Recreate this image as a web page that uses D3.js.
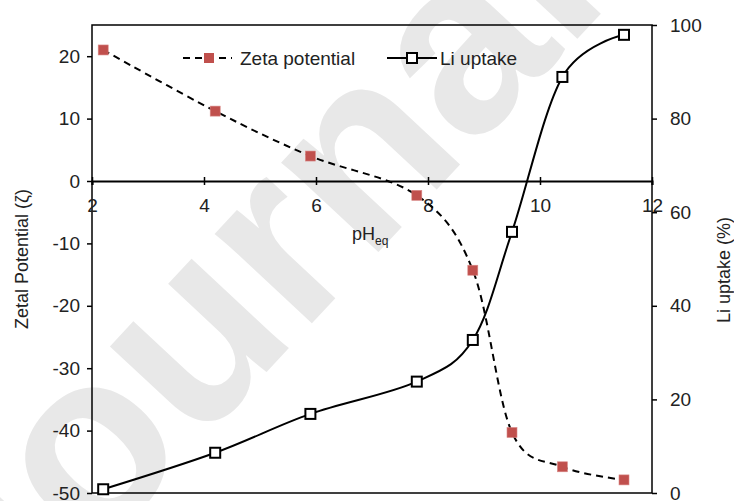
<!DOCTYPE html>
<html>
<head>
<meta charset="utf-8">
<script src="https://cdn.jsdelivr.net/npm/d3@7/dist/d3.min.js"></script>
<style>
  html, body { margin: 0; padding: 0; background: #fff; }
  svg { display: block; font-family: "Liberation Sans", Arial, sans-serif; }
</style>
</head>
<body>
<svg id="chart" width="734" height="501"></svg>
<script>
// Equilibrium pH of each sample
const pH = [2.2, 4.2, 5.9, 7.8, 8.8, 9.5, 10.4, 11.5];
// Zeta potential (mV) – left axis
const zeta = [21.0, 11.2, 4.0, -2.3, -14.3, -40.3, -45.8, -47.9];
// Li uptake (%) – right axis
const liUptake = [0.8, 8.6, 16.9, 23.8, 32.7, 55.8, 88.9, 97.9];

const xTicks = [2, 4, 6, 8, 10, 12];
const leftTicks = [-50, -40, -30, -20, -10, 0, 10, 20];
const rightTicks = [0, 20, 40, 60, 80, 100];

const svg = d3.select("#chart");
const m = { left: 92, right: 652, top: 25, bottom: 493 };

const x = d3.scaleLinear().domain([2, 12]).range([m.left, m.right]);
const yL = d3.scaleLinear().domain([-50, 25]).range([m.bottom, m.top]);
const yR = d3.scaleLinear().domain([0, 100]).range([m.bottom, m.top]);

const red = "#C0504D";
const fs = 19;
const plain = d => String(d);   // hyphen-minus for negatives

// faint diagonal watermark text behind the plot
svg.append("text")
  .attr("transform", "translate(-3,661) rotate(-47)")
  .attr("font-size", 250)
  .attr("font-weight", "bold")
  .attr("fill", "#e8e8e8")
  .text("Journal Pre-proof");

// plot frame
svg.append("rect")
  .attr("x", m.left).attr("y", m.top)
  .attr("width", m.right - m.left).attr("height", m.bottom - m.top)
  .attr("fill", "none").attr("stroke", "#000").attr("stroke-width", 1.5);

// left axis
const gL = svg.append("g").attr("transform", `translate(${m.left},0)`)
  .call(d3.axisLeft(yL).tickValues(leftTicks).tickFormat(plain).tickSize(5).tickPadding(7));
// right axis
const gR = svg.append("g").attr("transform", `translate(${m.right},0)`)
  .call(d3.axisRight(yR).tickValues(rightTicks).tickFormat(plain).tickSize(5).tickPadding(13));
// x axis through zeta = 0
const gX = svg.append("g").attr("transform", `translate(0,${yL(0)})`)
  .call(d3.axisBottom(x).tickValues(xTicks).tickFormat(plain).tickSize(4).tickPadding(14));
gX.selectAll(".tick line").attr("y1", -4).attr("y2", 4);

[gL, gR, gX].forEach(g => {
  g.select(".domain").attr("stroke", "#000").attr("stroke-width", 1.5);
  g.selectAll(".tick line").attr("stroke", "#000").attr("stroke-width", 1.5);
  g.selectAll(".tick text")
    .attr("font-size", fs)
    .attr("font-family", "Liberation Sans, Arial, sans-serif")
    .attr("fill", "#222");
});
gX.select(".domain").attr("stroke-width", 2);
gL.select(".domain").remove();
gR.select(".domain").remove();

// axis titles
svg.append("text")
  .attr("transform", `translate(22,${(m.top + m.bottom) / 2}) rotate(-90)`)
  .attr("text-anchor", "middle").attr("dy", "0.35em")
  .attr("font-size", 18).attr("fill", "#222")
  .text("Zetal Potential (ζ)");
svg.append("text")
  .attr("transform", `translate(724,270) rotate(-90)`)
  .attr("text-anchor", "middle").attr("dy", "0.35em")
  .attr("font-size", 18).attr("fill", "#222")
  .text("Li uptake (%)");
const xt = svg.append("text").attr("x", 352).attr("y", 240)
  .attr("font-size", 18).attr("fill", "#222");
xt.append("tspan").text("pH");
xt.append("tspan").attr("font-size", 12).attr("dy", 5).text("eq");

const pts = pH.map((p, i) => ({ p, z: zeta[i], li: liUptake[i] }));

// zeta potential: dashed smooth line with filled red squares
svg.append("path")
  .datum(pts)
  .attr("fill", "none").attr("stroke", "#000").attr("stroke-width", 2)
  .attr("stroke-dasharray", "7,5")
  .attr("d", d3.line().x(d => x(d.p)).y(d => yL(d.z)).curve(d3.curveCardinal.tension(0)));

// Li uptake: solid smooth line with open squares
svg.append("path")
  .datum(pts)
  .attr("fill", "none").attr("stroke", "#000").attr("stroke-width", 2)
  .attr("d", d3.line().x(d => x(d.p)).y(d => yR(d.li)).curve(d3.curveCardinal.tension(0)));

svg.append("g").selectAll("rect").data(pts).join("rect")
  .attr("x", d => x(d.p) - 5).attr("y", d => yL(d.z) - 5)
  .attr("width", 10).attr("height", 10)
  .attr("fill", red).attr("stroke", "#d98886").attr("stroke-width", 0.6);

svg.append("g").selectAll("rect").data(pts).join("rect")
  .attr("x", d => x(d.p) - 5).attr("y", d => yR(d.li) - 5)
  .attr("width", 10).attr("height", 10)
  .attr("fill", "#fff").attr("stroke", "#000").attr("stroke-width", 2);

// legend
const ly = 58;
const leg = svg.append("g");
leg.append("line").attr("x1", 183).attr("x2", 232).attr("y1", ly).attr("y2", ly)
  .attr("stroke", "#000").attr("stroke-width", 2).attr("stroke-dasharray", "7,5");
leg.append("rect").attr("x", 204).attr("y", ly - 5).attr("width", 10).attr("height", 10)
  .attr("fill", red);
leg.append("text").attr("x", 240).attr("y", ly).attr("dy", "0.35em")
  .attr("font-size", fs).attr("fill", "#222").text("Zeta potential");
leg.append("line").attr("x1", 387).attr("x2", 437).attr("y1", ly).attr("y2", ly)
  .attr("stroke", "#000").attr("stroke-width", 2);
leg.append("rect").attr("x", 407).attr("y", ly - 5).attr("width", 10).attr("height", 10)
  .attr("fill", "#fff").attr("stroke", "#000").attr("stroke-width", 2);
leg.append("text").attr("x", 440).attr("y", ly).attr("dy", "0.35em")
  .attr("font-size", fs).attr("fill", "#222").text("Li uptake");
</script>
</body>
</html>
